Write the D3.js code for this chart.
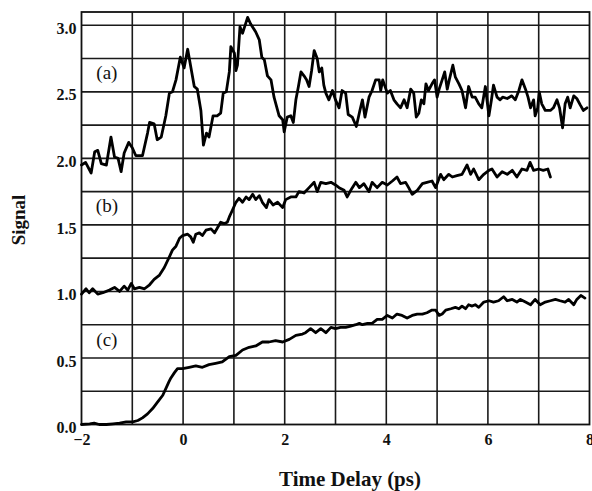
<!DOCTYPE html>
<html><head><meta charset="utf-8">
<script src="https://cdn.jsdelivr.net/npm/d3@7"></script>
<style>body{margin:0;background:#fff}svg{display:block}text{font-family:"Liberation Serif","Times New Roman",serif;fill:#111}</style>
</head><body><svg id="c" width="592" height="491"></svg>
<script>
const xTicks=[-2,0,2,4,6,8];
const yTicks=[0,0.5,1,1.5,2,2.5,3];
const curveLabels=["(a)","(b)","(c)"];
const labelPos=[[-1.5,2.64],[-1.5,1.64],[-1.5,0.635]];
const seriesA=[[-2,1.95],[-1.92,1.97],[-1.81,1.89],[-1.74,2.05],[-1.68,2.06],[-1.61,1.96],[-1.51,1.95],[-1.42,2.16],[-1.35,2.01],[-1.28,2.0],[-1.22,1.9],[-1.16,2.04],[-1.07,2.12],[-1.0,2.08],[-0.93,2.02],[-0.8,2.02],[-0.7,2.19],[-0.66,2.27],[-0.57,2.26],[-0.51,2.14],[-0.43,2.16],[-0.34,2.32],[-0.27,2.49],[-0.21,2.5],[-0.14,2.59],[-0.055,2.76],[0.02,2.68],[0.09,2.82],[0.15,2.69],[0.22,2.54],[0.28,2.52],[0.35,2.36],[0.4,2.1],[0.46,2.19],[0.51,2.16],[0.59,2.32],[0.67,2.32],[0.74,2.34],[0.79,2.49],[0.85,2.5],[0.91,2.65],[0.94,2.84],[1.01,2.79],[1.04,2.66],[1.07,2.7],[1.12,2.99],[1.17,2.94],[1.22,3.0],[1.27,3.06],[1.33,3.01],[1.43,2.95],[1.5,2.89],[1.55,2.76],[1.6,2.74],[1.66,2.62],[1.73,2.59],[1.79,2.46],[1.89,2.32],[1.96,2.29],[1.99,2.2],[2.05,2.31],[2.12,2.32],[2.17,2.27],[2.22,2.44],[2.27,2.54],[2.32,2.65],[2.38,2.62],[2.43,2.59],[2.48,2.54],[2.53,2.66],[2.58,2.81],[2.64,2.75],[2.68,2.65],[2.73,2.68],[2.77,2.55],[2.81,2.49],[2.87,2.44],[2.94,2.51],[3.0,2.44],[3.07,2.38],[3.13,2.51],[3.2,2.49],[3.25,2.33],[3.33,2.31],[3.41,2.24],[3.48,2.36],[3.53,2.44],[3.58,2.31],[3.66,2.46],[3.72,2.51],[3.79,2.59],[3.86,2.59],[3.89,2.51],[3.93,2.59],[4.02,2.49],[4.08,2.51],[4.15,2.44],[4.21,2.41],[4.28,2.38],[4.35,2.44],[4.41,2.38],[4.48,2.52],[4.54,2.49],[4.59,2.31],[4.64,2.34],[4.69,2.44],[4.74,2.41],[4.78,2.56],[4.83,2.51],[4.9,2.56],[4.95,2.59],[5.0,2.46],[5.04,2.52],[5.1,2.59],[5.15,2.65],[5.2,2.52],[5.24,2.59],[5.31,2.7],[5.36,2.61],[5.43,2.56],[5.49,2.51],[5.56,2.38],[5.62,2.54],[5.69,2.46],[5.75,2.46],[5.82,2.41],[5.88,2.38],[5.95,2.54],[6.02,2.32],[6.07,2.44],[6.11,2.55],[6.18,2.46],[6.24,2.44],[6.29,2.46],[6.38,2.45],[6.47,2.47],[6.54,2.44],[6.61,2.51],[6.67,2.59],[6.74,2.52],[6.79,2.46],[6.84,2.38],[6.9,2.44],[6.93,2.32],[6.98,2.38],[7.01,2.5],[7.06,2.41],[7.13,2.36],[7.23,2.36],[7.29,2.38],[7.36,2.44],[7.41,2.38],[7.47,2.23],[7.52,2.41],[7.57,2.46],[7.62,2.38],[7.69,2.47],[7.75,2.45],[7.82,2.4],[7.88,2.36],[7.95,2.38]];
const seriesB=[[-2,0.98],[-1.91,1.02],[-1.85,0.99],[-1.78,1.02],[-1.68,0.98],[-1.58,0.99],[-1.45,1.01],[-1.35,1.03],[-1.25,1.0],[-1.16,1.04],[-1.09,1.01],[-1.02,1.06],[-0.96,1.02],[-0.86,1.03],[-0.76,1.02],[-0.66,1.05],[-0.57,1.09],[-0.47,1.12],[-0.37,1.18],[-0.27,1.26],[-0.21,1.31],[-0.14,1.34],[-0.07,1.4],[-0.01,1.42],[0.09,1.43],[0.15,1.41],[0.2,1.37],[0.25,1.43],[0.32,1.44],[0.38,1.42],[0.45,1.46],[0.55,1.47],[0.62,1.44],[0.68,1.48],[0.74,1.52],[0.81,1.51],[0.87,1.52],[0.91,1.56],[0.97,1.61],[1.04,1.67],[1.1,1.7],[1.17,1.67],[1.24,1.71],[1.3,1.69],[1.37,1.73],[1.43,1.69],[1.5,1.72],[1.56,1.67],[1.64,1.63],[1.69,1.69],[1.77,1.65],[1.86,1.67],[1.96,1.63],[2.02,1.69],[2.12,1.71],[2.22,1.71],[2.28,1.75],[2.38,1.74],[2.48,1.78],[2.58,1.82],[2.64,1.75],[2.71,1.82],[2.81,1.81],[2.91,1.82],[3.0,1.8],[3.07,1.78],[3.17,1.76],[3.23,1.71],[3.3,1.76],[3.4,1.82],[3.47,1.78],[3.56,1.81],[3.66,1.75],[3.72,1.82],[3.82,1.78],[3.92,1.82],[4.02,1.8],[4.12,1.83],[4.21,1.86],[4.28,1.81],[4.38,1.82],[4.44,1.78],[4.51,1.73],[4.61,1.76],[4.71,1.81],[4.8,1.82],[4.9,1.83],[4.97,1.78],[5.07,1.88],[5.13,1.84],[5.23,1.88],[5.3,1.86],[5.39,1.87],[5.49,1.88],[5.59,1.95],[5.66,1.88],[5.72,1.92],[5.82,1.84],[5.92,1.88],[6.02,1.91],[6.08,1.92],[6.18,1.86],[6.28,1.9],[6.38,1.88],[6.48,1.91],[6.57,1.86],[6.67,1.92],[6.77,1.91],[6.83,1.97],[6.9,1.91],[7.0,1.92],[7.09,1.91],[7.18,1.92],[7.23,1.86]];
const seriesC=[[-2,0.0],[-1.84,0.005],[-1.75,0.01],[-1.65,0.0],[-1.51,0.0],[-1.38,0.005],[-1.25,0.01],[-1.12,0.02],[-0.99,0.02],[-0.89,0.03],[-0.8,0.05],[-0.7,0.08],[-0.6,0.12],[-0.5,0.17],[-0.4,0.22],[-0.34,0.27],[-0.28,0.32],[-0.24,0.35],[-0.17,0.39],[-0.11,0.42],[-0.01,0.42],[0.12,0.43],[0.25,0.44],[0.38,0.43],[0.51,0.45],[0.64,0.46],[0.77,0.47],[0.91,0.51],[1.04,0.52],[1.17,0.56],[1.3,0.58],[1.43,0.59],[1.56,0.62],[1.69,0.62],[1.82,0.63],[1.96,0.62],[2.09,0.64],[2.22,0.67],[2.35,0.68],[2.41,0.69],[2.51,0.72],[2.61,0.69],[2.71,0.72],[2.81,0.69],[2.91,0.73],[3.0,0.72],[3.1,0.73],[3.2,0.73],[3.3,0.74],[3.4,0.75],[3.47,0.76],[3.53,0.75],[3.63,0.76],[3.72,0.76],[3.82,0.79],[3.92,0.79],[4.02,0.82],[4.12,0.8],[4.21,0.83],[4.31,0.82],[4.41,0.8],[4.51,0.82],[4.61,0.83],[4.71,0.83],[4.8,0.84],[4.9,0.86],[4.97,0.86],[5.04,0.82],[5.1,0.83],[5.17,0.86],[5.27,0.87],[5.36,0.88],[5.43,0.87],[5.49,0.89],[5.56,0.87],[5.62,0.9],[5.69,0.89],[5.75,0.9],[5.82,0.88],[5.92,0.92],[6.02,0.93],[6.11,0.92],[6.21,0.93],[6.31,0.96],[6.38,0.93],[6.48,0.94],[6.57,0.92],[6.64,0.94],[6.74,0.92],[6.84,0.9],[6.93,0.94],[7.03,0.9],[7.13,0.92],[7.23,0.93],[7.33,0.94],[7.42,0.93],[7.52,0.92],[7.59,0.94],[7.69,0.9],[7.75,0.94],[7.83,0.97],[7.91,0.95]];

const svg=d3.select("#c");
const L=81.5,R=589.5,T=12,B=424.5;
const x=d3.scaleLinear().domain([-2,8]).range([L,R]);
const y=d3.scaleLinear().domain([0,3.1]).range([B,T]);
const g=svg.append("g");
const vg=d3.range(-1,8,1), hg=d3.range(0.25,3.01,0.25);
g.selectAll(".vg").data(vg).enter().append("line").attr("x1",d=>x(d)).attr("x2",d=>x(d)).attr("y1",T).attr("y2",B).attr("stroke","#1a1a1a").attr("stroke-width",1.6);
g.selectAll(".hg").data(hg).enter().append("line").attr("y1",d=>y(d)).attr("y2",d=>y(d)).attr("x1",L).attr("x2",R).attr("stroke","#1a1a1a").attr("stroke-width",1.6);
g.append("rect").attr("x",L).attr("y",T).attr("width",R-L).attr("height",B-T).attr("fill","none").attr("stroke","#111").attr("stroke-width",1.8);
const xa=svg.append("g").attr("transform",`translate(0,${B})`).call(d3.axisBottom(x).tickValues(xTicks).tickSize(0).tickPadding(9).tickFormat(d3.format("d")));
const ya=svg.append("g").attr("transform",`translate(${L},3)`).call(d3.axisLeft(y).tickValues(yTicks).tickSize(0).tickPadding(5).tickFormat(d3.format(".1f")));
[xa,ya].forEach(a=>{a.select(".domain").remove();a.attr("font-size",null).attr("font-family",null);a.selectAll("text").style("font-size","16px").style("font-family","'Liberation Serif',serif").style("font-weight","bold").attr("fill","#111");});
const line=d3.line().x(d=>x(d[0])).y(d=>y(d[1])).curve(d3.curveLinear);
[seriesA,seriesB,seriesC].forEach(s=>{
  svg.append("path").datum(s).attr("d",line).attr("fill","none").attr("stroke","#000").attr("stroke-width",2.8).attr("stroke-linejoin","round").attr("stroke-linecap","round");
});
curveLabels.forEach((t,i)=>{
  svg.append("text").attr("x",x(labelPos[i][0])).attr("y",y(labelPos[i][1])+6).attr("text-anchor","middle").style("font-size","19px").style("font-weight","normal").text(t);
});
svg.append("text").attr("x",350).attr("y",486).attr("text-anchor","middle").style("font-size","21px").style("font-weight","bold").text("Time Delay (ps)");
svg.append("text").attr("transform","translate(25,220) rotate(-90)").attr("text-anchor","middle").style("font-size","19px").style("font-weight","bold").text("Signal");
</script></body></html>
